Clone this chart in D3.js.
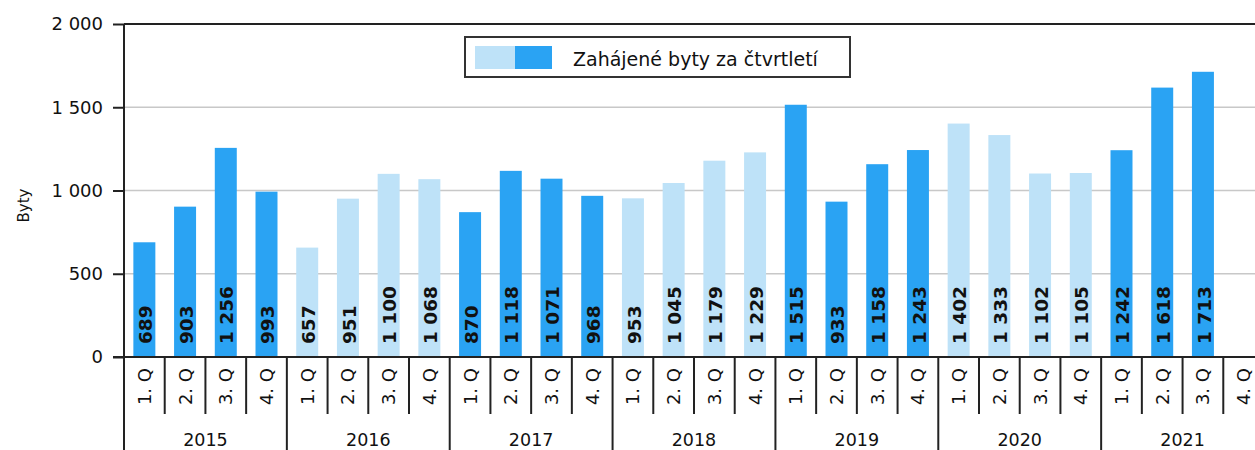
<!DOCTYPE html>
<html>
<head>
<meta charset="utf-8">
<script src="https://cdn.jsdelivr.net/npm/d3@7"></script>
<style>
  body { margin: 0; background: #fff; }
  svg { display: block; font-family: "DejaVu Sans", Verdana, sans-serif; }
</style>
</head>
<body>
<div id="chart"></div>
<script>
// data
const years = ['2015', '2016', '2017', '2018', '2019', '2020', '2021'];
const quarters = ['1. Q', '2. Q', '3. Q', '4. Q'];
const values = [
  689, 903, 1256, 993,
  657, 951, 1100, 1068,
  870, 1118, 1071, 968,
  953, 1045, 1179, 1229,
  1515, 933, 1158, 1243,
  1402, 1333, 1102, 1105,
  1242, 1618, 1713, null
];
const yTicks = [0, 500, 1000, 1500, 2000];

const width = 1255, height = 450;
const margin = { left: 124, top: 24, bottom: 93 };
const plotRight = 1264; // the chart runs past the right edge of the picture

const darkBlue = '#2aa3f3',
      lightBlue = '#bee2f8';

const fmt = (v) => d3.format(',')(v).replace(/,/g, ' ');

// one row per quarter
const rows = [];
years.forEach((y, i) => {
  quarters.forEach((q, j) => {
    rows.push({ key: y + '-' + q, year: y, yearIdx: i, quarter: q, value: values[i * 4 + j] });
  });
});

const svg = d3.select('#chart').append('svg')
  .attr('width', width)
  .attr('height', height);

const x = d3.scaleBand()
  .domain(rows.map((d) => d.key))
  .range([margin.left, plotRight])
  .padding(0);

const y = d3.scaleLinear()
  .domain([0, 2000])
  .range([height - margin.bottom, margin.top]);

const y0 = y(0);

// gridlines
svg.append('g')
  .selectAll('line')
  .data(yTicks.filter((t) => t > 0 && t < 2000))
  .enter().append('line')
  .attr('x1', margin.left)
  .attr('x2', plotRight)
  .attr('y1', (d) => y(d))
  .attr('y2', (d) => y(d))
  .style('stroke', '#c8c8c8')
  .style('stroke-width', 1.5);

// top border
svg.append('line')
  .attr('x1', margin.left)
  .attr('x2', plotRight)
  .attr('y1', y(2000))
  .attr('y2', y(2000))
  .style('stroke', '#222')
  .style('stroke-width', 2);

// bars
const barW = x.bandwidth() * 0.54;
svg.append('g')
  .selectAll('rect')
  .data(rows.filter((d) => d.value !== null))
  .enter().append('rect')
  .attr('x', (d) => x(d.key) + (x.bandwidth() - barW) / 2)
  .attr('y', (d) => y(d.value))
  .attr('width', barW)
  .attr('height', (d) => y0 - y(d.value))
  .style('fill', (d) => d.yearIdx % 2 === 0 ? darkBlue : lightBlue);

// value labels inside the bars
svg.append('g')
  .selectAll('text')
  .data(rows.filter((d) => d.value !== null))
  .enter().append('text')
  .attr('transform', (d) => `translate(${x(d.key) + x.bandwidth() / 2 + 1},${y0 - 13}) rotate(-90)`)
  .attr('dy', '0.36em')
  .style('font-size', '18.5px')
  .style('font-weight', 'bold')
  .style('fill', '#111')
  .text((d) => fmt(d.value));

// y axis
const yAxis = svg.append('g')
  .attr('transform', `translate(${margin.left},0)`)
  .call(d3.axisLeft(y).tickValues(yTicks).tickSize(11).tickPadding(10).tickFormat(fmt));
yAxis.select('.domain').remove();
yAxis.selectAll('.tick line').style('stroke', '#222').style('stroke-width', 2);
yAxis.selectAll('.tick text')
  .style('font-size', '18px')
  .style('font-family', '"DejaVu Sans", Verdana, sans-serif')
  .style('fill', '#111');

svg.append('line')
  .attr('x1', margin.left).attr('x2', margin.left)
  .attr('y1', y(2000)).attr('y2', height)
  .style('stroke', '#222').style('stroke-width', 2);

// x axis base line
svg.append('line')
  .attr('x1', margin.left - 11).attr('x2', plotRight)
  .attr('y1', y0).attr('y2', y0)
  .style('stroke', '#222').style('stroke-width', 2);

// quarter separators and year separators
svg.append('g')
  .selectAll('line')
  .data(rows.slice(1))
  .enter().append('line')
  .attr('x1', (d) => x(d.key))
  .attr('x2', (d) => x(d.key))
  .attr('y1', y0)
  .attr('y2', (d) => d.quarter === quarters[0] ? height : y0 + 57)
  .style('stroke', '#222')
  .style('stroke-width', 2);

// quarter labels
svg.append('g')
  .selectAll('text')
  .data(rows)
  .enter().append('text')
  .attr('transform', (d) => `translate(${x(d.key) + x.bandwidth() / 2},${y0 + 11}) rotate(-90)`)
  .attr('dy', '0.36em')
  .attr('text-anchor', 'end')
  .style('font-size', '18px')
  .style('fill', '#111')
  .text((d) => d.quarter);

// year labels
svg.append('g')
  .selectAll('text')
  .data(years)
  .enter().append('text')
  .attr('x', (d) => {
    const first = x(d + '-' + quarters[0]);
    return first + x.bandwidth() * 2;
  })
  .attr('y', y0 + 89)
  .attr('text-anchor', 'middle')
  .style('font-size', '17.5px')
  .style('fill', '#111')
  .text((d) => d);

// y axis title
svg.append('text')
  .attr('transform', `translate(29,${y(910)}) rotate(-90)`)
  .attr('text-anchor', 'middle')
  .style('font-size', '15px')
  .style('fill', '#111')
  .text('Byty');

// legend
const legend = svg.append('g').attr('transform', 'translate(465,37)');
legend.append('rect')
  .attr('width', 385)
  .attr('height', 40)
  .style('fill', '#fff')
  .style('stroke', '#333')
  .style('stroke-width', 2);
legend.append('rect')
  .attr('x', 10).attr('y', 9)
  .attr('width', 40).attr('height', 23)
  .style('fill', lightBlue);
legend.append('rect')
  .attr('x', 50).attr('y', 9)
  .attr('width', 37).attr('height', 23)
  .style('fill', darkBlue);
legend.append('text')
  .attr('x', 108)
  .attr('y', 29)
  .style('font-size', '19px')
  .style('fill', '#111')
  .text('Zahájené byty za čtvrtletí');
</script>
</body>
</html>
